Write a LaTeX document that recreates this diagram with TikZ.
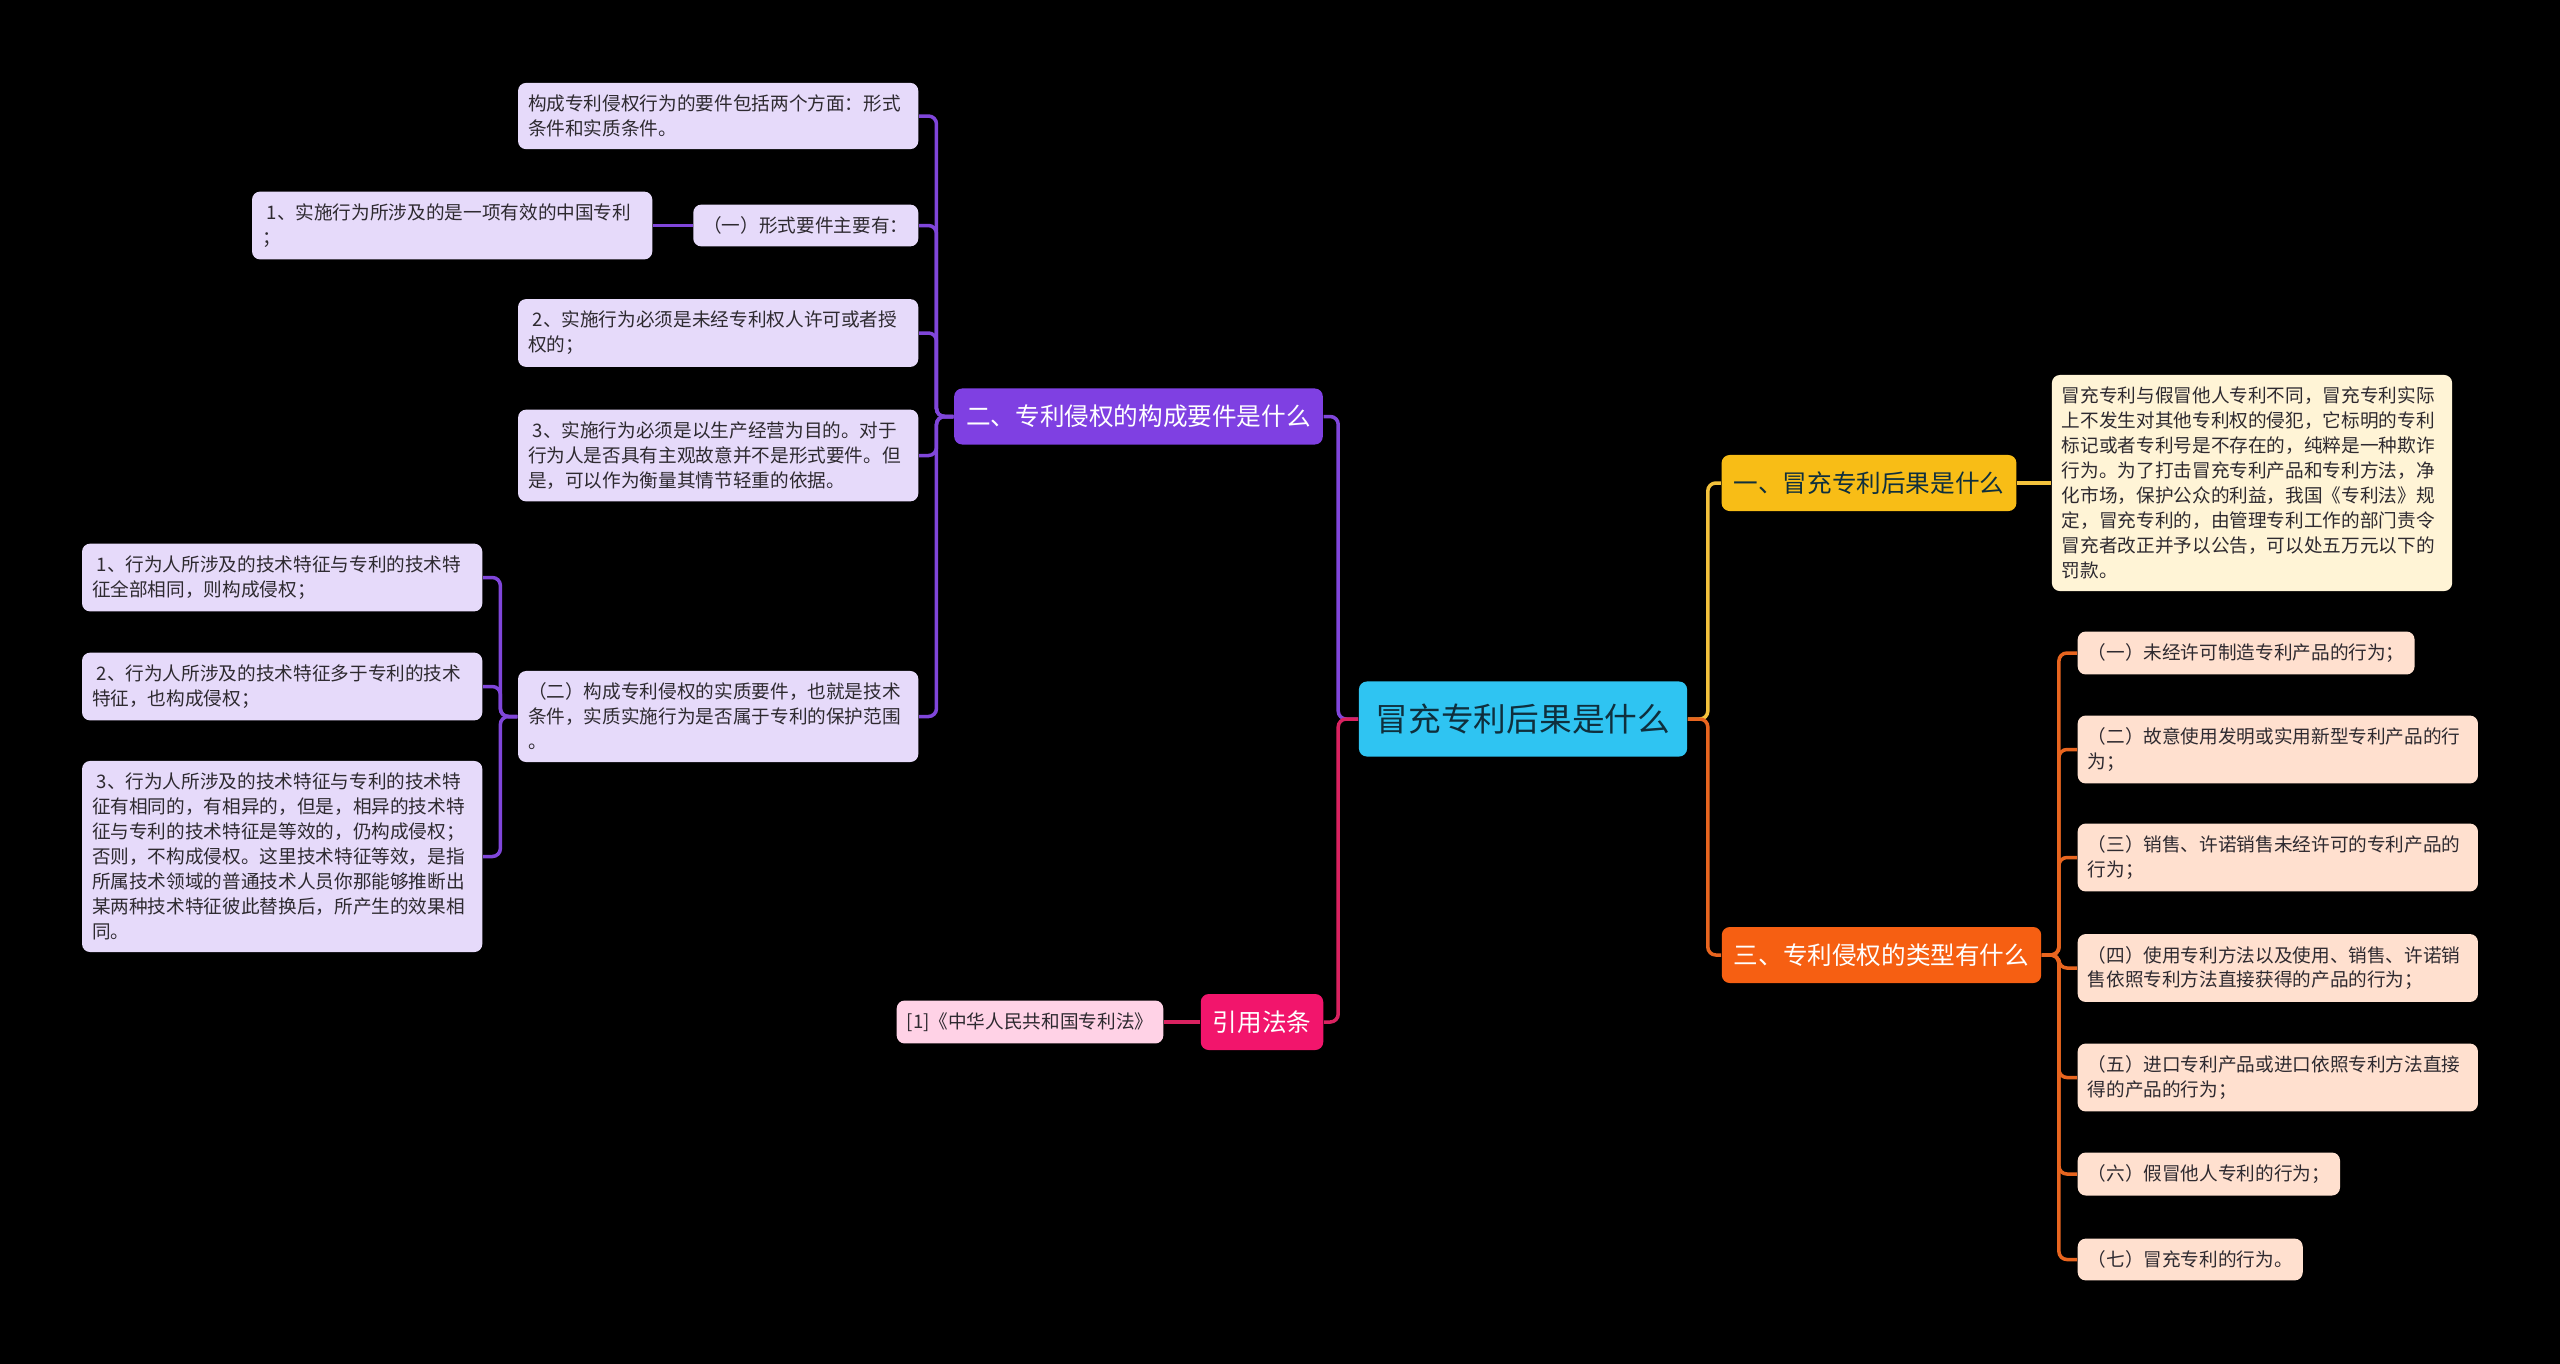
\documentclass[tikz,border=0pt]{standalone}
\usepackage{fontspec}
\setmainfont{Noto Sans CJK SC}
\usepackage{tikz}
\usepackage{xcolor}
\definecolor{rootfill}{HTML}{2FC4F2}
\definecolor{roottext}{HTML}{0F2F3D}
\definecolor{purplefill}{HTML}{7F40E2}
\definecolor{purpleleaf}{HTML}{E6DAFA}
\definecolor{purpleline}{HTML}{8046DA}
\definecolor{pinkfill}{HTML}{F2156C}
\definecolor{pinkleaf}{HTML}{FFD2E6}
\definecolor{pinkline}{HTML}{D92260}
\definecolor{yellowfill}{HTML}{F8BD16}
\definecolor{yellowleaf}{HTML}{FFF4D6}
\definecolor{yellowline}{HTML}{F3C23C}
\definecolor{orangefill}{HTML}{F65F12}
\definecolor{orangeleaf}{HTML}{FFE0CF}
\definecolor{orangeline}{HTML}{E8651F}
\definecolor{leaftext}{HTML}{2E2A30}
\tikzset{
  boxbase/.style={rounded corners=0.08cm, inner xsep=0.1cm, inner ysep=0.12cm},
  rootbox/.style={boxbase, fill=rootfill, text=roottext, font=\fontsize{9.3}{11}\selectfont,
    minimum width=3.28cm, minimum height=0.75cm},
  mainbox/.style={boxbase, font=\fontsize{7}{9}\selectfont, inner xsep=0.12cm,
    minimum height=0.56cm},
  leaf/.style={boxbase, font=\fontsize{5.3}{7.1}\selectfont, text=leaftext, align=left},
  wideleaf/.style={leaf, text width=3.8cm},
  conn/.style={line width=1pt, rounded corners=0.08cm}
}
\newcommand{\numgap}{\hspace{0.25em}}

\begin{document}
\begin{tikzpicture}[x=0.01cm, y=-0.01cm]
  \useasboundingbox (0,0) rectangle (2560,1363);
  \fill[black] (-10,-10) rectangle (2570,1373);
  % centre topic
  \node[rootbox] (root) at (1523,719) {冒充专利后果是什么};
  % right: branch one
  \node[mainbox, fill=yellowfill, text=roottext] (one) at (1869,483) {一、冒充专利后果是什么};
  \node[wideleaf, fill=yellowleaf] (onedet) at (2252,483)
    {冒充专利与假冒他人专利不同，冒充专利实际\\上不发生对其他专利权的侵犯，它标明的专利\\标记或者专利号是不存在的，纯粹是一种欺诈\\行为。为了打击冒充专利产品和专利方法，净\\化市场，保护公众的利益，我国《专利法》规\\定，冒充专利的，由管理专利工作的部门责令\\冒充者改正并予以公告，可以处五万元以下的\\罚款。};
  % right: branch three
  \node[mainbox, fill=orangefill, text=white] (three) at (1881.5,955) {三、专利侵权的类型有什么};
  \node[leaf, fill=orangeleaf, anchor=west] (o1) at (2077,653) {（一）未经许可制造专利产品的行为；};
  \node[wideleaf, fill=orangeleaf, anchor=west] (o2) at (2077,749.5) {（二）故意使用发明或实用新型专利产品的行\\为；};
  \node[wideleaf, fill=orangeleaf, anchor=west] (o3) at (2077,857.5) {（三）销售、许诺销售未经许可的专利产品的\\行为；};
  \node[wideleaf, fill=orangeleaf, anchor=west] (o4) at (2077,968) {（四）使用专利方法以及使用、销售、许诺销\\售依照专利方法直接获得的产品的行为；};
  \node[wideleaf, fill=orangeleaf, anchor=west] (o5) at (2077,1077.5) {（五）进口专利产品或进口依照专利方法直接\\得的产品的行为；};
  \node[leaf, fill=orangeleaf, anchor=west] (o6) at (2077,1174) {（六）假冒他人专利的行为；};
  \node[leaf, fill=orangeleaf, anchor=west] (o7) at (2077,1259.5) {（七）冒充专利的行为。};
  % left: branch two
  \node[mainbox, fill=purplefill, text=white] (two) at (1138.5,416.5) {二、专利侵权的构成要件是什么};
  \node[wideleaf, fill=purpleleaf, anchor=east] (p1) at (919,116) {构成专利侵权行为的要件包括两个方面：形式\\条件和实质条件。};
  \node[leaf, fill=purpleleaf, anchor=east] (p2) at (919,225.5) {（一）形式要件主要有：};
  \node[wideleaf, fill=purpleleaf, anchor=east] (p2a) at (653,225.5) {\numgap 1、实施行为所涉及的是一项有效的中国专利\\；};
  \node[wideleaf, fill=purpleleaf, anchor=east] (p3) at (919,333) {\numgap 2、实施行为必须是未经专利权人许可或者授\\权的；};
  \node[wideleaf, fill=purpleleaf, anchor=east] (p4) at (919,455.5) {\numgap 3、实施行为必须是以生产经营为目的。对于\\行为人是否具有主观故意并不是形式要件。但\\是，可以作为衡量其情节轻重的依据。};
  \node[wideleaf, fill=purpleleaf, anchor=east] (p5) at (919,716.5) {（二）构成专利侵权的实质要件，也就是技术\\条件，实质实施行为是否属于专利的保护范围\\。};
  \node[wideleaf, fill=purpleleaf, anchor=east] (p5a) at (483,577.5) {\numgap 1、行为人所涉及的技术特征与专利的技术特\\征全部相同，则构成侵权；};
  \node[wideleaf, fill=purpleleaf, anchor=east] (p5b) at (483,686.5) {\numgap 2、行为人所涉及的技术特征多于专利的技术\\特征，也构成侵权；};
  \node[wideleaf, fill=purpleleaf, anchor=east] (p5c) at (483,856.5) {\numgap 3、行为人所涉及的技术特征与专利的技术特\\征有相同的，有相异的，但是，相异的技术特\\征与专利的技术特征是等效的，仍构成侵权；\\否则，不构成侵权。这里技术特征等效，是指\\所属技术领域的普通技术人员你那能够推断出\\某两种技术特征彼此替换后，所产生的效果相\\同。};
  % left: cited law
  \node[mainbox, fill=pinkfill, text=white] (cite) at (1262,1022) {引用法条};
  \node[leaf, fill=pinkleaf, anchor=east] (citeleaf) at (1164,1022) {[1]《中华人民共和国专利法》};
  % connectors
  \draw[conn, yellowline] (root.east) -- ++(20,0) |- (one.west);
  \draw[conn, orangeline] (root.east) -- ++(20,0) |- (three.west);
  \draw[conn, purpleline] (root.west) -- ++(-20,0) |- (two.east);
  \draw[conn, pinkline] (root.west) -- ++(-20,0) |- (cite.east);
  \draw[conn, yellowline] (one.east) -- (onedet.west);
  \foreach \i in {1,...,7}
    \draw[conn, orangeline] (three.east) -- ++(17,0) |- (o\i.west);
  \foreach \n in {p1,p2,p3,p4,p5}
    \draw[conn, purpleline] (two.west) -- ++(-17,0) |- (\n.east);
  \draw[conn, purpleline] (p2.west) -- (p2a.east);
  \foreach \n in {p5a,p5b,p5c}
    \draw[conn, purpleline] (p5.west) -- ++(-17,0) |- (\n.east);
  \draw[conn, pinkline] (cite.west) -- (citeleaf.east);
\end{tikzpicture}
\end{document}
